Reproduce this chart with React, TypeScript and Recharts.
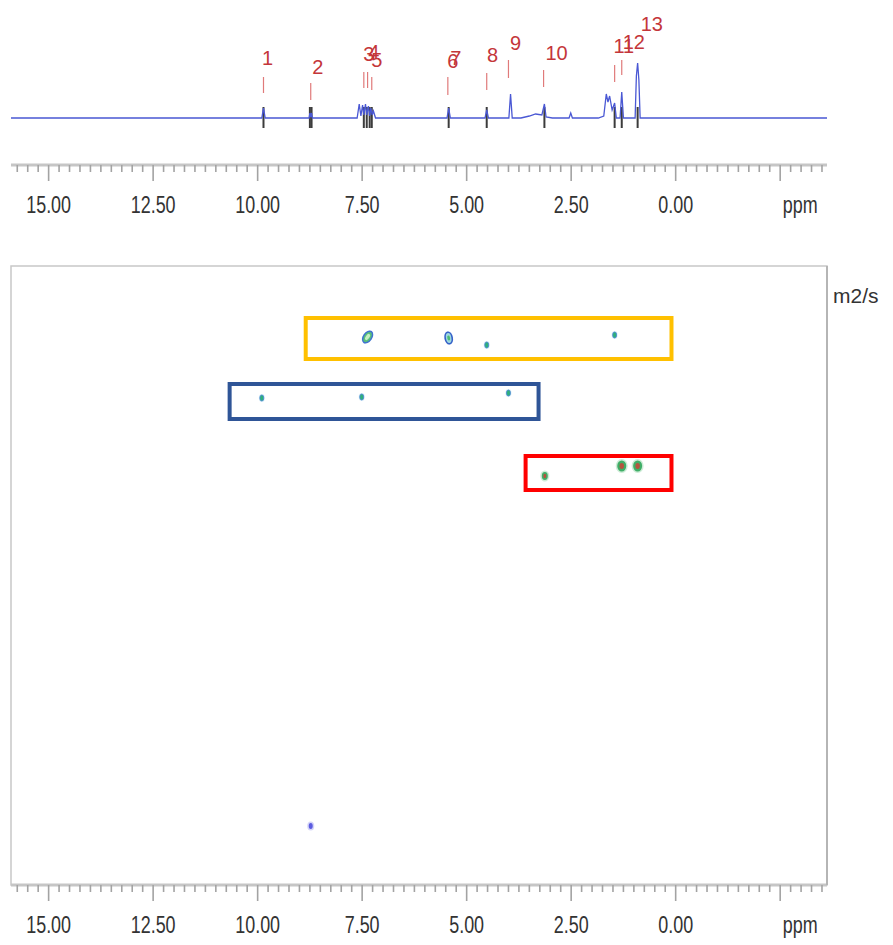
import React from 'react';
import { ComposedChart, Line, Scatter, XAxis, YAxis, ReferenceLine, ReferenceArea } from 'recharts';

// 1D proton spectrum along the top: [ppm, intensity]
const spectrumPpm = [15.9, 9.9, 9.86, 9.82, 8.77, 8.75, 8.73, 8.71, 8.69, 7.62, 7.57, 7.53, 7.49, 7.46, 7.42, 7.39, 7.35, 7.32, 7.29, 7.26, 7.23, 7.18, 5.47, 5.43, 5.39, 4.56, 4.52, 4.48, 3.99, 3.95, 3.91, 3.7, 3.5, 3.35, 3.2, 3.14, 3.1, 2.95, 2.55, 2.51, 2.47, 1.85, 1.72, 1.66, 1.62, 1.58, 1.52, 1.46, 1.42, 1.33, 1.29, 1.25, 0.97, 0.94, 0.91, 0.88, 0.85, -3.62];
const spectrumInt = [0, 0, 10, 0, 0, 5, 1, 5, 0, 0, 14, 2, 13, 3, 14, 3, 12, 2, 10, 3, 7, 0, 0, 10, 0, 0, 8, 0, 0, 24, 0, 0, 2, 4, 3, 14, 1, 0, 0, 5, 0, 0, 2, 24, 16, 22, 8, 15, 0, 0, 26, 0, 0, 42, 55, 38, 0, 0];

// peak pick marks (red) and their numbers
const pickPpm = [9.86, 8.73, 7.46, 7.37, 7.27, 5.45, 4.52, 4.0, 3.16, 1.46, 1.29];
const pickTop = [41, 35, 46, 46, 41, 41, 45, 58, 48, 53, 58];
const pickBottom = [25, 18, 30, 30, 28, 23, 28, 40, 31, 36, 43];
const peakNames = ['1', '2', '3', '4', '5', '6', '7', '8', '9', '10', '11', '12', '13'];
const peakNamePpm = [9.76, 8.56, 7.34, 7.22, 7.15, 5.33, 5.26, 4.38, 3.83, 2.85, 1.24, 1.0, 0.57];
const peakNameInt = [60, 51, 64, 66, 58, 57, 60, 63, 75, 65, 72, 76, 94];

// integral / multiplet marks (dark) on the baseline
const markPpm = [9.86, 8.75, 8.71, 7.46, 7.39, 7.32, 7.27, 5.43, 4.52, 3.14, 1.46, 1.29, 0.91];

// DOSY cross peaks: ppm, diffusion (x1e-10 m2/s), contour level
const yellowPpm = [7.37, 5.43, 4.52, 1.46];
const yellowD = [1.42, 1.44, 1.58, 1.38];
const yellowLevel = [3, 2, 1, 1];
const bluePpm = [9.9, 7.51, 4.0];
const blueD = [2.64, 2.62, 2.54];
const blueLevel = [1, 1, 1];
const redPpm = [3.13, 1.29, 0.91];
const redD = [4.2, 4.0, 4.0];
const redLevel = [1, 2, 2];
const lonePpm = [8.73];
const loneD = [11.2];
const loneLevel = [1];

// highlight boxes: [ppm from, ppm to, D from, D to]
const yellowBox = [8.85, 0.1, 1.04, 1.86];
const blueBox = [10.67, 3.28, 2.36, 3.06];
const redBox = [3.59, 0.1, 3.8, 4.48];

const majorTicks = [15, 12.5, 10, 7.5, 5, 2.5, 0, -2.5];
const majorLabels = ['15.00', '12.50', '10.00', '7.50', '5.00', '2.50', '0.00', 'ppm'];
const allTicks = Array.from({ length: 78 }, (_, i) => 15.75 - i * 0.25);

const X_DOMAIN: [number, number] = [-3.62, 15.9];
const AXIS_FONT = "'Liberation Sans', Arial, sans-serif";
const LABEL_FONT = "'Liberation Sans', Arial, sans-serif";

const spectrum = spectrumPpm.map((ppm, i) => ({ ppm, int: spectrumInt[i] }));
const peakLabels = peakNames.map((label, i) => ({ ppm: peakNamePpm[i], int: peakNameInt[i], label }));
const toSpots = (ppm: number[], d: number[], level: number[]) => ppm.map((p, i) => ({ ppm: p, d: d[i], level: level[i] }));

function PpmTick(props: any) {
  const { x, y, payload } = props;
  const idx = majorTicks.indexOf(payload.value);
  const major = idx >= 0;
  const tx = x + (payload.value === -2.5 ? 20 : 0);
  return (
    <g>
      <line x1={x} x2={x} y1={y} y2={y + (major ? 16 : 7)} stroke="#a3a3a3" strokeWidth={1.6} />
      {major ? (
        <text transform={`translate(${tx} ${y + 48}) scale(0.78 1)`} textAnchor="middle" fontFamily={AXIS_FONT} fontSize={23} fill="#333">
          {majorLabels[idx]}
        </text>
      ) : null}
    </g>
  );
}

function PeakLabel(props: any) {
  const { cx, cy, payload } = props;
  return (
    <text x={cx} y={cy + 7} textAnchor="middle" fontFamily={LABEL_FONT} fontSize={20} fill="#c4363a">
      {payload.label}
    </text>
  );
}

function makeSpot(kind: 'plain' | 'red' | 'lone') {
  return function Spot(props: any) {
    const { cx, cy, payload } = props;
    if (cx == null || cy == null) return null;
    const lvl = payload.level;
    if (kind === 'lone') {
      return (
        <g>
          <ellipse cx={cx} cy={cy} rx={3.5} ry={4.5} fill="#b7b7f3" opacity={0.6} />
          <ellipse cx={cx} cy={cy} rx={2} ry={3} fill="#5c5ce0" />
        </g>
      );
    }
    if (kind === 'red') {
      const rx = lvl > 1 ? 4.5 : 3;
      const ry = lvl > 1 ? 5.5 : 4;
      return (
        <g>
          <ellipse cx={cx} cy={cy} rx={rx + 1.5} ry={ry + 1.5} fill="#b9e4c6" opacity={0.7} />
          <ellipse cx={cx} cy={cy} rx={rx} ry={ry} fill="#3fae67" />
          <ellipse cx={cx} cy={cy} rx={rx * 0.5} ry={ry * 0.55} fill="#b5543f" />
        </g>
      );
    }
    if (lvl === 3) {
      return (
        <g transform={`rotate(35 ${cx} ${cy})`}>
          <ellipse cx={cx} cy={cy} rx={5} ry={7.5} fill="#cfe0f5" opacity={0.7} />
          <ellipse cx={cx} cy={cy} rx={4} ry={6.5} fill="#58c07a" stroke="#3f72cf" strokeWidth={1.4} />
          <ellipse cx={cx} cy={cy} rx={1.8} ry={3.5} fill="#c7efc0" />
        </g>
      );
    }
    if (lvl === 2) {
      return (
        <g transform={`rotate(-10 ${cx} ${cy})`}>
          <ellipse cx={cx} cy={cy} rx={4.5} ry={7} fill="#cfe0f5" opacity={0.7} />
          <ellipse cx={cx} cy={cy} rx={3.5} ry={5.8} fill="#9fd8e0" stroke="#3560c8" strokeWidth={1.6} />
          <ellipse cx={cx} cy={cy} rx={1.4} ry={2.6} fill="#4dbb72" />
        </g>
      );
    }
    return (
      <g>
        <ellipse cx={cx} cy={cy} rx={3} ry={4} fill="#bfe0f0" opacity={0.6} />
        <ellipse cx={cx} cy={cy} rx={2} ry={3} fill="#2fb07a" stroke="#4b86d8" strokeWidth={0.8} />
      </g>
    );
  };
}

const SpotPlain = makeSpot('plain');
const SpotRed = makeSpot('red');
const SpotLone = makeSpot('lone');

function UnitLabel(props: any) {
  const vb = props.viewBox || {};
  return (
    <text x={(vb.x ?? 827) + 6} y={(vb.y ?? 266) + 37} fontFamily={LABEL_FONT} fontSize={21} fill="#333">
      m2/s
    </text>
  );
}

export default function App() {
  return (
    <div style={{ position: 'absolute', left: 0, top: 0, width: 893, height: 945, background: '#fff' }}>
      <ComposedChart width={893} height={240} data={spectrum} margin={{ top: 15, right: 66, bottom: 0, left: 11 }}>
        <XAxis
          dataKey="ppm"
          type="number"
          domain={X_DOMAIN}
          reversed
          allowDataOverflow
          ticks={allTicks}
          interval={0}
          tick={<PpmTick />}
          tickLine={false}
          tickSize={0}
          tickMargin={0}
          height={75}
          axisLine={{ stroke: '#c6c6c6', strokeWidth: 3 }}
        />
        <YAxis dataKey="int" type="number" domain={[-47, 103]} hide allowDataOverflow />
        {markPpm.map((p, i) => (
          <ReferenceLine key={`m${i}`} segment={[{ x: p, y: 11 }, { x: p, y: -10 }]} stroke="#3c3c3c" strokeWidth={2} />
        ))}
        <Line dataKey="int" type="linear" stroke="#4a58d4" strokeWidth={1.3} dot={false} isAnimationActive={false} />
        {pickPpm.map((p, i) => (
          <ReferenceLine key={`p${i}`} segment={[{ x: p, y: pickTop[i] }, { x: p, y: pickBottom[i] }]} stroke="#e07a7a" strokeWidth={1.2} />
        ))}
        <Scatter data={peakLabels} dataKey="int" shape={<PeakLabel />} isAnimationActive={false} />
      </ComposedChart>
      <ComposedChart width={893} height={705} margin={{ top: 26, right: 0, bottom: 0, left: 11 }}>
        <XAxis
          dataKey="ppm"
          type="number"
          domain={X_DOMAIN}
          reversed
          allowDataOverflow
          ticks={allTicks}
          interval={0}
          tick={<PpmTick />}
          tickLine={false}
          tickSize={0}
          tickMargin={0}
          height={60}
          axisLine={{ stroke: '#c6c6c6', strokeWidth: 3 }}
        />
        <YAxis
          dataKey="d"
          type="number"
          orientation="right"
          domain={[0, 12.38]}
          reversed
          allowDataOverflow
          width={66}
          tick={false}
          tickLine={false}
          axisLine={{ stroke: '#b5b5b5', strokeWidth: 2 }}
          label={{ content: <UnitLabel /> }}
        />
        <ReferenceArea x1={X_DOMAIN[0]} x2={X_DOMAIN[1]} y1={0} y2={12.38} fill="none" stroke="#c8c8c8" strokeWidth={1.5} />
        <ReferenceArea x1={yellowBox[0]} x2={yellowBox[1]} y1={yellowBox[2]} y2={yellowBox[3]} fill="none" stroke="#ffc000" strokeWidth={4} />
        <ReferenceArea x1={blueBox[0]} x2={blueBox[1]} y1={blueBox[2]} y2={blueBox[3]} fill="none" stroke="#2f5597" strokeWidth={4} />
        <ReferenceArea x1={redBox[0]} x2={redBox[1]} y1={redBox[2]} y2={redBox[3]} fill="none" stroke="#ff0000" strokeWidth={4} />
        <Scatter data={toSpots(yellowPpm, yellowD, yellowLevel)} dataKey="d" shape={<SpotPlain />} isAnimationActive={false} />
        <Scatter data={toSpots(bluePpm, blueD, blueLevel)} dataKey="d" shape={<SpotPlain />} isAnimationActive={false} />
        <Scatter data={toSpots(redPpm, redD, redLevel)} dataKey="d" shape={<SpotRed />} isAnimationActive={false} />
        <Scatter data={toSpots(lonePpm, loneD, loneLevel)} dataKey="d" shape={<SpotLone />} isAnimationActive={false} />
      </ComposedChart>
    </div>
  );
}
